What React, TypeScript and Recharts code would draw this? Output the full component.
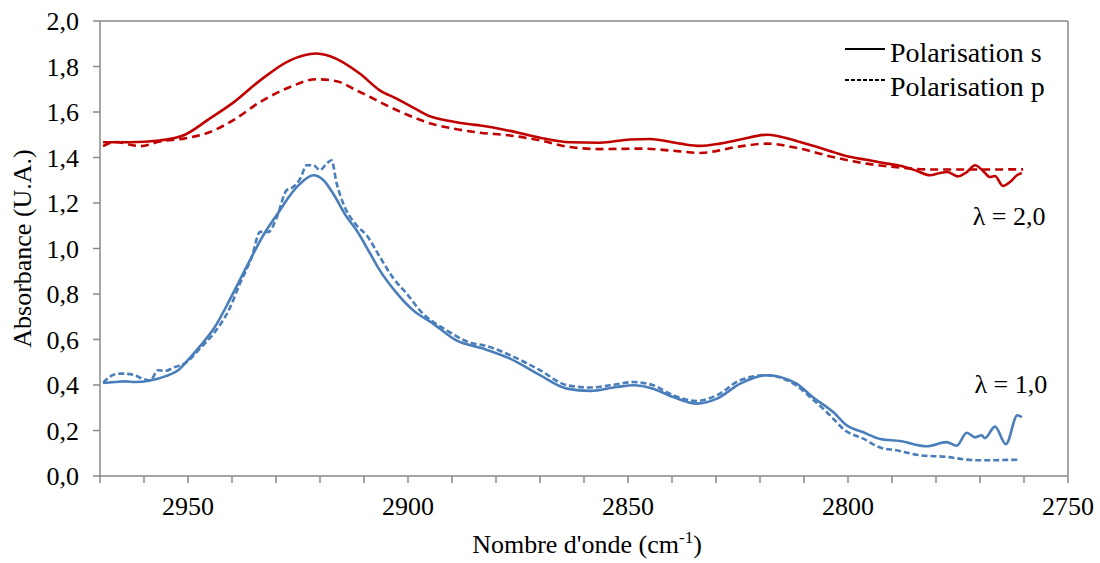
import { LineChart, Line, XAxis, YAxis, ReferenceLine, ReferenceDot, Label } from "recharts";

// wavenumber (cm-1) / absorbance pairs
const RED_S_WN = [2969.3, 2963.2, 2956.4, 2950.7, 2945.0, 2939.8, 2933.6, 2926.8, 2920.9, 2917.7, 2910.9, 2906.4, 2902.6, 2898.4, 2895.0, 2890.5, 2885.9, 2883.6, 2876.8, 2870.0, 2863.2, 2856.4, 2849.5, 2845.0, 2838.2, 2833.6, 2829.1, 2824.5, 2818.4, 2810.9, 2803.4, 2800.2, 2795.7, 2791.1, 2788.2, 2784.3, 2781.4, 2779.1, 2777.5, 2775.0, 2773.0, 2771.1, 2769.3, 2767.7, 2766.6, 2764.8, 2763.2, 2761.6, 2760.5];
const RED_S_ABS = [1.467, 1.467, 1.475, 1.5, 1.572, 1.64, 1.739, 1.827, 1.857, 1.845, 1.768, 1.695, 1.659, 1.615, 1.581, 1.56, 1.546, 1.541, 1.517, 1.487, 1.467, 1.465, 1.479, 1.481, 1.461, 1.451, 1.461, 1.479, 1.5, 1.468, 1.424, 1.405, 1.39, 1.373, 1.364, 1.341, 1.322, 1.332, 1.336, 1.317, 1.336, 1.366, 1.341, 1.314, 1.319, 1.275, 1.292, 1.322, 1.332];

const RED_P_WN = [2969.3, 2966.6, 2960.9, 2956.4, 2950.7, 2945.0, 2939.8, 2933.6, 2926.8, 2920.9, 2916.2, 2911.7, 2907.9, 2904.1, 2900.3, 2894.2, 2889.7, 2883.6, 2876.8, 2870.0, 2863.2, 2856.4, 2847.3, 2838.2, 2833.6, 2824.5, 2818.4, 2810.9, 2803.4, 2795.7, 2788.2, 2780.7, 2773.0, 2760.2];
const RED_P_ABS = [1.45, 1.468, 1.45, 1.47, 1.484, 1.512, 1.563, 1.644, 1.71, 1.744, 1.735, 1.695, 1.659, 1.622, 1.589, 1.546, 1.527, 1.509, 1.497, 1.475, 1.446, 1.437, 1.439, 1.427, 1.42, 1.449, 1.461, 1.439, 1.402, 1.373, 1.356, 1.347, 1.347, 1.348];

const BLUE_S_WN = [2969.3, 2966.6, 2964.3, 2962.0, 2958.6, 2955.2, 2951.8, 2950.7, 2947.3, 2943.9, 2940.5, 2936.7, 2932.9, 2929.1, 2926.8, 2924.5, 2921.5, 2919.2, 2917.0, 2913.9, 2911.7, 2908.6, 2906.4, 2902.6, 2898.8, 2894.3, 2889.0, 2882.9, 2876.8, 2870.0, 2863.9, 2858.6, 2852.6, 2848.8, 2844.3, 2839.7, 2834.4, 2829.8, 2824.5, 2818.5, 2811.7, 2807.9, 2803.3, 2800.3, 2796.5, 2792.7, 2788.2, 2782.1, 2777.6, 2775.3, 2773.0, 2771.1, 2769.6, 2768.9, 2766.6, 2764.1, 2761.5, 2760.5];
const BLUE_S_ABS = [0.409, 0.413, 0.416, 0.413, 0.42, 0.438, 0.472, 0.495, 0.57, 0.655, 0.775, 0.919, 1.058, 1.168, 1.234, 1.285, 1.322, 1.3, 1.241, 1.138, 1.08, 0.978, 0.904, 0.805, 0.728, 0.67, 0.596, 0.56, 0.516, 0.443, 0.384, 0.374, 0.391, 0.399, 0.384, 0.347, 0.318, 0.34, 0.406, 0.443, 0.406, 0.345, 0.28, 0.223, 0.192, 0.163, 0.154, 0.131, 0.149, 0.133, 0.19, 0.17, 0.179, 0.166, 0.217, 0.14, 0.267, 0.259];

const BLUE_P_WN = [2969.3, 2966.6, 2965.0, 2962.0, 2960.9, 2958.6, 2956.8, 2955.2, 2953.0, 2950.7, 2947.3, 2943.9, 2940.5, 2938.2, 2935.5, 2933.6, 2931.7, 2929.8, 2927.6, 2926.1, 2924.5, 2923.0, 2921.5, 2920.0, 2918.5, 2917.4, 2916.2, 2914.7, 2911.7, 2909.4, 2906.4, 2903.3, 2900.3, 2897.3, 2891.2, 2885.2, 2882.9, 2876.8, 2870.0, 2863.9, 2858.6, 2852.6, 2848.8, 2844.3, 2839.7, 2834.4, 2829.8, 2824.5, 2818.5, 2812.4, 2807.9, 2804.1, 2800.7, 2796.5, 2792.7, 2789.0, 2783.6, 2777.6, 2773.0, 2770.0, 2760.9];
const BLUE_P_ABS = [0.41, 0.447, 0.45, 0.443, 0.432, 0.42, 0.465, 0.462, 0.479, 0.495, 0.56, 0.633, 0.738, 0.846, 0.963, 1.073, 1.073, 1.138, 1.256, 1.27, 1.307, 1.366, 1.366, 1.344, 1.373, 1.388, 1.285, 1.197, 1.102, 1.058, 0.963, 0.868, 0.802, 0.728, 0.64, 0.582, 0.575, 0.531, 0.465, 0.399, 0.389, 0.403, 0.413, 0.399, 0.355, 0.33, 0.355, 0.421, 0.443, 0.406, 0.335, 0.267, 0.201, 0.164, 0.125, 0.113, 0.091, 0.084, 0.072, 0.069, 0.072];

const X_TICKS = [2970, 2960, 2950, 2940, 2930, 2920, 2910, 2900, 2890, 2880, 2870, 2860, 2850, 2840, 2830, 2820, 2810, 2800, 2790, 2780, 2770, 2760, 2750];
const Y_TICKS = [0, 0.2, 0.4, 0.6, 0.8, 1.0, 1.2, 1.4, 1.6, 1.8, 2.0];

const RED = "#C00000";
const BLUE = "#4A7EBB";
const AXIS = "#898989";
const FONT = "Liberation Serif, Times New Roman, Times, Nimbus Roman, FreeSerif, DejaVu Serif, serif";

const zip = (wn: number[], abs: number[]) => wn.map((w, i) => ({ wn: w, abs: abs[i] }));

const redS = zip(RED_S_WN, RED_S_ABS);
const redP = zip(RED_P_WN, RED_P_ABS);
const blueS = zip(BLUE_S_WN, BLUE_S_ABS);
const blueP = zip(BLUE_P_WN, BLUE_P_ABS);

const tickStyle = { fill: "#000", fontSize: 26, fontFamily: FONT };

const XTitle = (props: any) => {
  const vb = props.viewBox ?? { x: 0, width: 0 };
  return (
    <text x={vb.x + vb.width / 2 + 3} y={553} textAnchor="middle" style={{ fontFamily: FONT }} fontSize={26} fill="#000">
      Nombre d'onde (cm
      <tspan dy={-10} fontSize={17}>-1</tspan>
      <tspan dy={10}>)</tspan>
    </text>
  );
};

export default function App() {
  return (
    <div style={{ position: "absolute", left: 0, top: 0, width: 1100, height: 563, background: "#fff", fontFamily: FONT }}>
      <LineChart width={1100} height={563} margin={{ top: 21, right: 32, bottom: 0, left: 0 }} style={{ fontFamily: FONT }}>
        <XAxis
          dataKey="wn"
          type="number"
          domain={[2750, 2970]}
          reversed
          ticks={X_TICKS}
          interval={0}
          tickFormatter={(v: number) => (v % 50 === 0 ? String(v) : "")}
          tick={tickStyle}
          tickSize={7}
          tickMargin={14}
          height={87}
          stroke={AXIS}
          strokeWidth={1.5}
          allowDataOverflow
        >
          <Label content={<XTitle />} />
        </XAxis>
        <YAxis
          type="number"
          domain={[0, 2]}
          ticks={Y_TICKS}
          interval={0}
          tickFormatter={(v: number) => v.toFixed(1).replace(".", ",")}
          tick={tickStyle}
          tickSize={7}
          tickMargin={14}
          width={100}
          stroke={AXIS}
          strokeWidth={1.5}
          allowDataOverflow
        >
          <Label
            value="Absorbance (U.A.)"
            angle={-90}
            position="insideLeft"
            offset={22}
            style={{ textAnchor: "middle", fontFamily: FONT, fontSize: 26, fill: "#000" }}
          />
        </YAxis>
        <ReferenceLine y={2} stroke={AXIS} strokeWidth={1.5} />
        <ReferenceLine x={2750} stroke={AXIS} strokeWidth={1.5} />

        <Line data={redS} dataKey="abs" type="monotone" stroke={RED} strokeWidth={2.6} dot={false} isAnimationActive={false} />
        <Line data={redP} dataKey="abs" type="monotone" stroke={RED} strokeWidth={2.6} strokeDasharray="8 5" dot={false} isAnimationActive={false} />
        <Line data={blueS} dataKey="abs" type="monotone" stroke={BLUE} strokeWidth={2.6} dot={false} isAnimationActive={false} />
        <Line data={blueP} dataKey="abs" type="monotone" stroke={BLUE} strokeWidth={2.6} strokeDasharray="6 3" dot={false} isAnimationActive={false} />

        <ReferenceDot x={2763.4} y={1.145} r={0} stroke="none" fill="none"
          label={{ value: "λ = 2,0", position: "center", style: { fontFamily: FONT }, fontSize: 26, fill: "#000" }} />
        <ReferenceDot x={2763} y={0.407} r={0} stroke="none" fill="none"
          label={{ value: "λ = 1,0", position: "center", style: { fontFamily: FONT }, fontSize: 26, fill: "#000" }} />
      </LineChart>

      <div style={{ position: "absolute", left: 845, top: 36, fontSize: 28, lineHeight: "34px", color: "#000" }}>
        <div style={{ display: "flex", alignItems: "center", height: 34 }}>
          <svg width={45} height={34}>
            <line x1={0} x2={40} y1={13} y2={13} stroke="#000" strokeWidth={2} />
          </svg>
          <span>Polarisation s</span>
        </div>
        <div style={{ display: "flex", alignItems: "center", height: 34 }}>
          <svg width={45} height={34}>
            <line x1={0} x2={40} y1={10} y2={10} stroke="#000" strokeWidth={2} strokeDasharray="4 2" />
          </svg>
          <span>Polarisation p</span>
        </div>
      </div>
    </div>
  );
}
